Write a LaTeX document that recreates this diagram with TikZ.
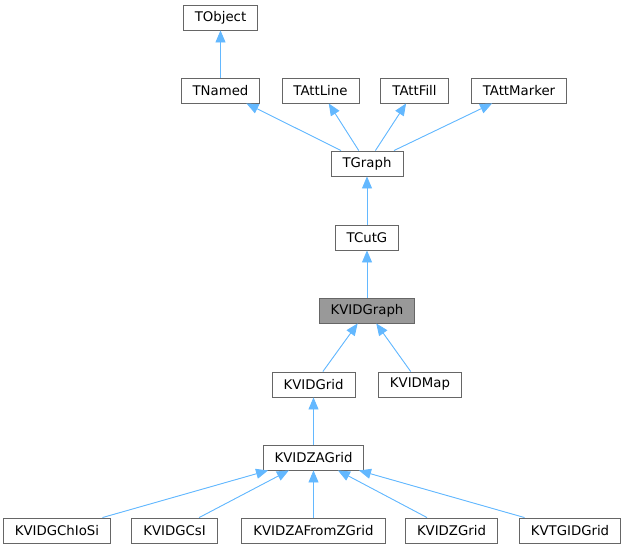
\documentclass[tikz,border=0pt]{standalone}
\usepackage{fontspec}
\setmainfont{DejaVu Sans}
\usetikzlibrary{arrows.meta, positioning}
\definecolor{edgeblue}{HTML}{63B8FF}
\definecolor{boxgray}{HTML}{666666}
\definecolor{markgray}{HTML}{999999}
\begin{document}
\begin{tikzpicture}[
        x=1pt, y=-1pt,
        cls/.style={rectangle, draw=boxgray, line width=0.9pt, fill=white, minimum height=25pt, inner xsep=11.5pt, inner ysep=0pt, font=\fontsize{13.3}{16}\selectfont},
        here/.style={cls, fill=markgray},
        inh/.style={-{Triangle[length=12pt, width=10pt]}, draw=edgeblue, fill=edgeblue, line width=0.9pt}
    ]
        \useasboundingbox (0,0) rectangle (627,549);

        % classes, row by row
        \path
            (220.5,17.5)  node[cls] (tobject) {TObject}
            (220.5,90.5)  node[cls] (tnamed) {TNamed}
            (320.5,90.5)  node[cls] (tattline) {TAttLine}
            (414.5,90.5)  node[cls] (tattfill) {TAttFill}
            (519,90.5)    node[cls] (tattmarker) {TAttMarker}
            (367,163.5)   node[cls] (tgraph) {TGraph}
            (367,237.5)   node[cls] (tcutg) {TCutG}
            (367,310.5)   node[here] (kvidgraph) {KVIDGraph}
            (313.5,384.5) node[cls] (kvidgrid) {KVIDGrid}
            (420,384.5)   node[cls] (kvidmap) {KVIDMap}
            (313.5,457.5) node[cls] (kvidzagrid) {KVIDZAGrid}
            (57,530.5)    node[cls] (kvidgchiosi) {KVIDGChIoSi}
            (174.5,530.5) node[cls] (kvidgcsi) {KVIDGCsI}
            (313.5,530.5) node[cls] (kvidzafromz) {KVIDZAFromZGrid}
            (451.5,530.5) node[cls] (kvidzgrid) {KVIDZGrid}
            (570,530.5)   node[cls] (kvtgidgrid) {KVTGIDGrid};

        % inheritance
        \draw[inh] (tnamed) -- (tobject);
        \draw[inh] (tgraph) -- (tnamed);
        \draw[inh] (tgraph) -- (tattline);
        \draw[inh] (tgraph) -- (tattfill);
        \draw[inh] (tgraph) -- (tattmarker);
        \draw[inh] (tcutg) -- (tgraph);
        \draw[inh] (kvidgraph) -- (tcutg);
        \draw[inh] (kvidgrid) -- (kvidgraph);
        \draw[inh] (kvidmap) -- (kvidgraph);
        \draw[inh] (kvidzagrid) -- (kvidgrid);
        \foreach \c in {kvidgchiosi, kvidgcsi, kvidzafromz, kvidzgrid, kvtgidgrid}
            \draw[inh] (\c) -- (kvidzagrid);
    \end{tikzpicture}
\end{document}
